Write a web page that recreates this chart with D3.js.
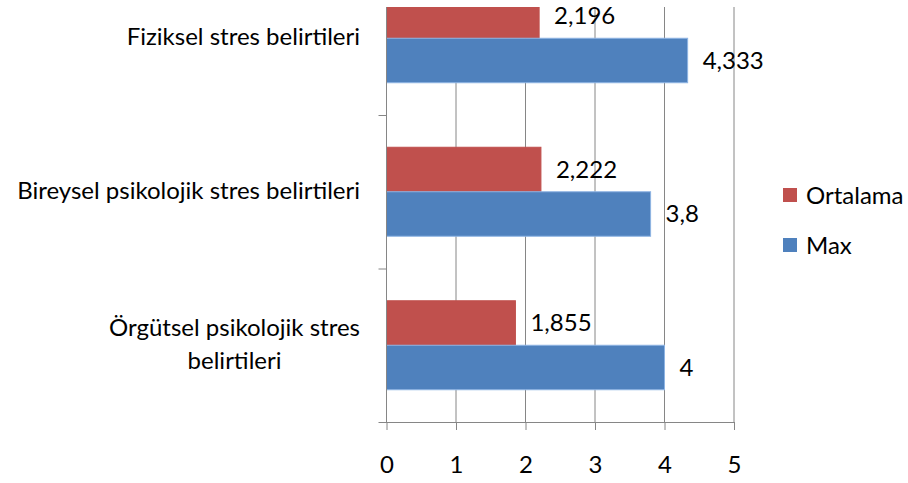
<!DOCTYPE html>
<html lang="tr">
<head>
  <meta charset="UTF-8">
  <title>stres belirtileri</title>
  <script src="https://d3js.org/d3.v7.min.js"></script>
  <style>
    body { margin: 0; background: #fff; }
    text { font-family: Lato, "Open Sans", sans-serif; fill: #000; }
  </style>
</head>
<body>
  <div class="canvas"></div>
  <script>
    // kategoriler, yukaridan asagiya
    const categories = ['Fiziksel stres belirtileri', 'Bireysel psikolojik stres belirtileri', 'Örgütsel psikolojik stres belirtileri'];
    const series = ['Ortalama', 'Max'];
    const ortalama = [2.196, 2.222, 1.855];
    const maxValues = [4.333, 3.8, 4];
    const xTicks = [0, 1, 2, 3, 4, 5];

    const colors = { Ortalama: '#C0504D', Max: '#4F81BD' };
    const borders = { Ortalama: '#C0504D', Max: '#8EB4E3' };
    const fontSize = 24;

    const width = 908;
    const height = 483;
    const plotLeft = 386.5, plotRight = 734;
    const plotBottom = 422, plotTop = 7;
    const step = 153.5;

    const rows = categories.map((c, i) => ({ cat: c, values: [
      { key: 'Ortalama', value: ortalama[i] },
      { key: 'Max', value: maxValues[i] }
    ]}));

    const svg = d3.select('.canvas')
                  .append('svg')
                  .attr('width', width)
                  .attr('height', height);

    svg.append('rect').attr('width', width).attr('height', height).attr('fill', '#fff');

    const x = d3.scaleLinear()
                .domain([0, 5])
                .range([plotLeft, plotRight]);

    const y0 = d3.scaleBand()
                 .domain(categories)
                 .range([plotBottom - step * categories.length, plotBottom])
                 .padding(0);

    const y1 = d3.scaleBand()
                 .domain(series)
                 .range([0, y0.bandwidth()])
                 .paddingInner(0)
                 .paddingOuter(0.725);

    // ust kenar kirpik
    svg.append('clipPath').attr('id', 'plotClip')
       .append('rect')
       .attr('x', 0).attr('y', plotTop)
       .attr('width', width).attr('height', height - plotTop);

    const plot = svg.append('g').attr('clip-path', 'url(#plotClip)');

    // dikey izgara cizgileri
    plot.selectAll('line.grid')
        .data(xTicks.filter(d => d > 0))
        .enter()
        .append('line')
        .attr('class', 'grid')
        .attr('x1', d => x(d)).attr('x2', d => x(d))
        .attr('y1', plotTop).attr('y2', plotBottom)
        .attr('stroke', '#868686')
        .attr('stroke-width', 1);

    // cubuklar
    const groups = plot.selectAll('g.cat')
                       .data(rows)
                       .enter()
                       .append('g')
                       .attr('class', 'cat')
                       .attr('transform', d => `translate(0, ${y0(d.cat)})`);

    groups.selectAll('rect')
          .data(d => d.values)
          .enter()
          .append('rect')
          .attr('x', x(0))
          .attr('y', d => y1(d.key))
          .attr('width', d => x(d.value) - x(0))
          .attr('height', y1.bandwidth())
          .attr('fill', d => colors[d.key])
          .attr('stroke', d => borders[d.key])
          .attr('stroke-width', 1);

    groups.selectAll('text.val')
          .data(d => d.values)
          .enter()
          .append('text')
          .attr('class', 'val')
          .attr('x', d => x(d.value) + 15)
          .attr('y', d => y1(d.key) + y1.bandwidth() / 2)
          .attr('dy', '0.34em')
          .style('font-size', fontSize + 'px')
          .text(d => String(d.value).replace('.', ','));

    // y ekseni
    plot.append('line')
        .attr('x1', x(0)).attr('x2', x(0))
        .attr('y1', plotTop).attr('y2', plotBottom)
        .attr('stroke', '#868686');

    plot.selectAll('line.ytick')
        .data(categories)
        .enter()
        .append('line')
        .attr('class', 'ytick')
        .attr('x1', x(0) - 8).attr('x2', x(0))
        .attr('y1', d => y0(d) + 0.5).attr('y2', d => y0(d) + 0.5)
        .attr('stroke', '#868686');

    // kategori etiketleri (cok satirli olanlar ortali, en genis satir 360'ta biter)
    const labelLines = {
      'Örgütsel psikolojik stres belirtileri': ['Örgütsel psikolojik stres', 'belirtileri']
    };
    const lineGap = 33;
    const labelRight = 360;

    svg.selectAll('text.cat')
       .data(categories)
       .enter()
       .append('text')
       .attr('class', 'cat')
       .style('font-size', fontSize + 'px')
       .attr('text-anchor', 'middle')
       .each(function(d) {
         const lines = labelLines[d] || [d];
         const cy = y0(d) + y0.bandwidth() / 2;
         const t = d3.select(this);
         const spans = lines.map((ln, i) =>
           t.append('tspan')
            .attr('y', cy + (i - (lines.length - 1) / 2) * lineGap)
            .attr('dy', '0.3em')
            .text(ln));
         const maxW = d3.max(spans, s => s.node().getComputedTextLength());
         spans.forEach(s => s.attr('x', labelRight - maxW / 2));
       });

    // x ekseni
    const xAxis = d3.axisBottom(x)
                    .tickValues(xTicks)
                    .tickSizeInner(8)
                    .tickSizeOuter(0)
                    .tickPadding(26)
                    .tickFormat(d3.format('d'));

    const xAxisG = svg.append('g')
                      .attr('transform', `translate(0, ${plotBottom})`)
                      .call(xAxis);

    xAxisG.select('.domain')
          .attr('d', `M${x(0) - 8},0.5H${x(5)}`)
          .attr('stroke', '#868686');
    xAxisG.selectAll('.tick line').attr('stroke', '#868686');
    xAxisG.selectAll('.tick text')
          .style('font-size', fontSize + 'px')
          .style('font-family', 'Lato, "Open Sans", sans-serif')
          .attr('fill', '#000');

    // lejant
    const legend = svg.append('g').attr('transform', 'translate(783, 188)');
    const items = legend.selectAll('g')
                        .data(series)
                        .enter()
                        .append('g')
                        .attr('transform', (d, i) => `translate(0, ${i * 50})`);
    items.append('rect')
         .attr('width', 14).attr('height', 14)
         .attr('fill', d => colors[d]);
    items.append('text')
         .attr('x', 23).attr('y', 7)
         .attr('dy', '0.36em')
         .style('font-size', fontSize + 'px')
         .text(d => d);
  </script>
</body>
</html>
